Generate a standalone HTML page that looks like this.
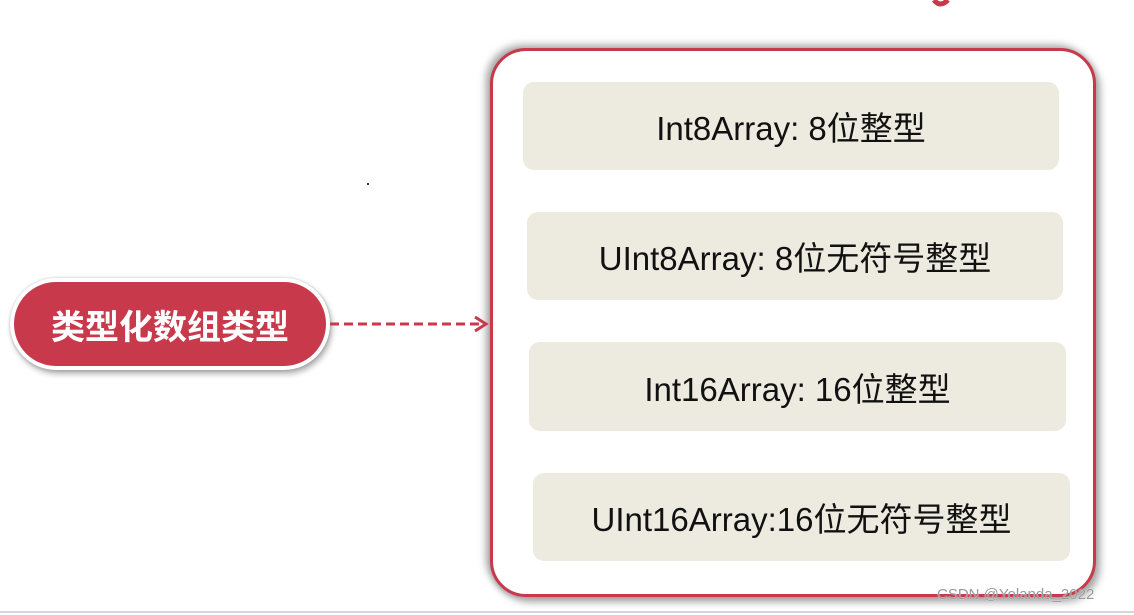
<!DOCTYPE html>
<html><head><meta charset="utf-8"><style>
body{margin:0;width:1134px;height:615px;background:#fff;position:relative;overflow:hidden;font-family:"Liberation Sans","Noto Sans CJK SC",sans-serif}
.outer{position:absolute;left:490px;top:48px;width:600px;height:543px;border:3px solid #c8394b;border-radius:36px;box-shadow:-4px -3px 8px rgba(0,0,0,.35),4px 5px 8px rgba(0,0,0,.35);background:#fff}
.b{position:absolute;background:#edeae0;border-radius:11px;height:88px;display:flex;align-items:center;justify-content:center;font-size:33px;color:#111}
.pill{position:absolute;left:10px;top:278px;width:312px;height:84px;background:#c8394b;border:4px solid #fff;border-radius:46px;box-shadow:2px 4px 6px rgba(0,0,0,.3),0 0 3px rgba(0,0,0,.2);color:#fff;font-weight:bold;font-size:34px;display:flex;align-items:center;justify-content:center;letter-spacing:0px}
.wm{position:absolute;left:937px;top:586px;font-size:15px;color:#999;text-shadow:0 0 1px #fff}
.line{position:absolute;left:0;top:611px;width:1134px;height:2px;background:#d6d6de}
</style></head><body>
<svg style="position:absolute;left:930px;top:0" width="22" height="8"><path d="M4 0 Q10 8 18 0" stroke="#c8394b" stroke-width="5" fill="none"/></svg>
<div class="outer"></div>
<div class="b" style="left:523px;top:82px;width:536px">Int8Array: 8位整型</div>
<div class="b" style="left:527px;top:212px;width:536px">UInt8Array: 8位无符号整型</div>
<div class="b" style="left:529px;top:342px;width:537px;height:89px">Int16Array: 16位整型</div>
<div class="b" style="left:533px;top:473px;width:537px">UInt16Array:16位无符号整型</div>
<div class="pill">类型化数组类型</div>
<svg style="position:absolute;left:328px;top:314px" width="165" height="20">
<line x1="2" y1="10" x2="158" y2="10" stroke="#c8394b" stroke-width="3" stroke-dasharray="9,5"/>
<polyline points="147,3 158,10 147,17" stroke="#c8394b" stroke-width="3" fill="none"/>
</svg>
<div style="position:absolute;left:367px;top:183px;width:2px;height:2px;background:#333"></div>
<div class="wm">CSDN @Yolanda_2022</div>
<div class="line"></div>
</body></html>
